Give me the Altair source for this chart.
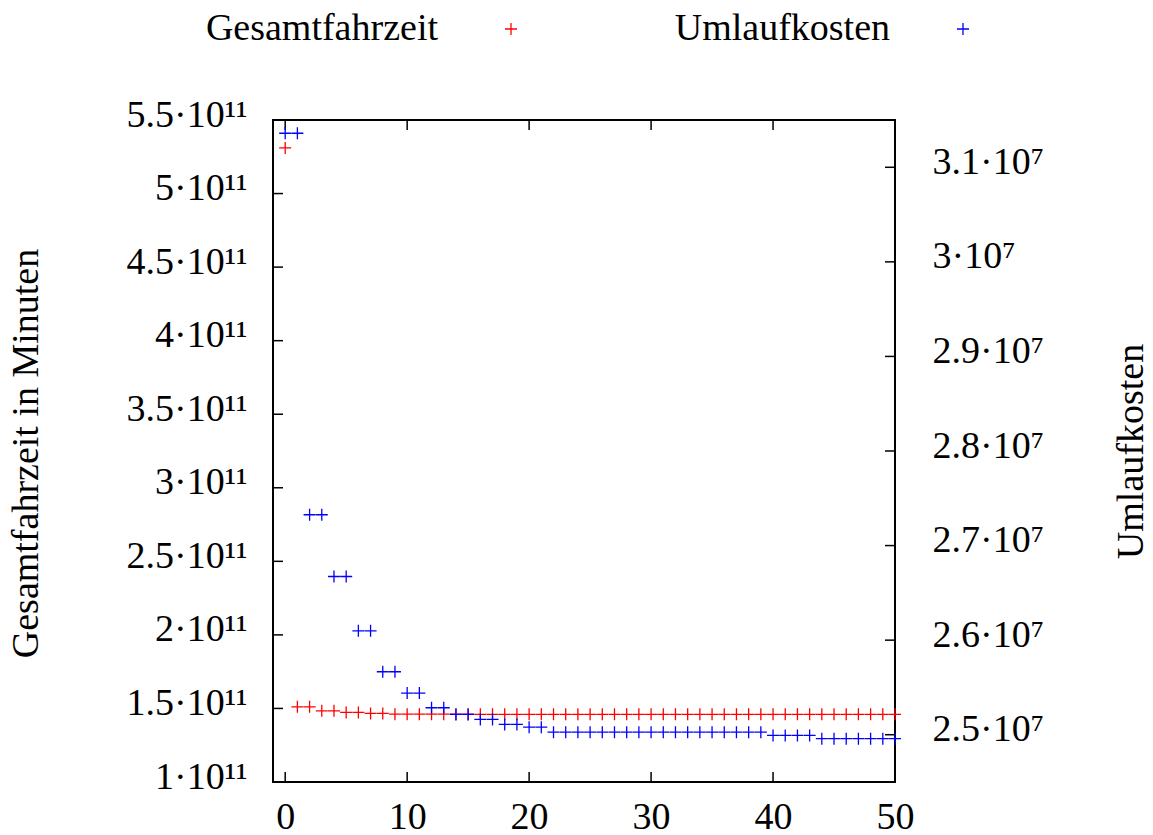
import altair as alt
import pandas as pd

# ---------------- data ----------------
series_names = ["Gesamtfahrzeit", "Umlaufkosten"]
series_colors = ["#ff0000", "#0000ff"]

iterations = [0, 1, 2, 3, 4, 5, 6, 7, 8, 9,
              10, 11, 12, 13, 14, 15, 16, 17, 18, 19,
              20, 21, 22, 23, 24, 25, 26, 27, 28, 29,
              30, 31, 32, 33, 34, 35, 36, 37, 38, 39,
              40, 41, 42, 43, 44, 45, 46, 47, 48, 49, 50]

gesamtfahrzeit = [5.31e11, 1.511e11, 1.511e11, 1.484e11, 1.484e11, 1.473e11, 1.473e11, 1.466e11, 1.466e11, 1.461e11,
                  1.461e11, 1.461e11, 1.461e11, 1.461e11, 1.461e11, 1.461e11, 1.460e11, 1.460e11, 1.460e11, 1.460e11,
                  1.460e11, 1.460e11, 1.460e11, 1.460e11, 1.460e11, 1.460e11, 1.460e11, 1.460e11, 1.460e11, 1.460e11,
                  1.460e11, 1.460e11, 1.460e11, 1.460e11, 1.460e11, 1.460e11, 1.460e11, 1.460e11, 1.460e11, 1.460e11,
                  1.460e11, 1.460e11, 1.460e11, 1.460e11, 1.460e11, 1.460e11, 1.460e11, 1.460e11, 1.460e11, 1.460e11,
                  1.460e11]

umlaufkosten = [3.136e7, 3.136e7, 2.7326e7, 2.7326e7, 2.6673e7, 2.6673e7, 2.6099e7, 2.6099e7, 2.5666e7, 2.5666e7,
                2.5440e7, 2.5440e7, 2.5285e7, 2.5285e7, 2.5215e7, 2.5215e7, 2.5162e7, 2.5162e7, 2.5109e7, 2.5109e7,
                2.5080e7, 2.5080e7, 2.5027e7, 2.5027e7, 2.5027e7, 2.5027e7, 2.5027e7, 2.5027e7, 2.5027e7, 2.5027e7,
                2.5027e7, 2.5027e7, 2.5027e7, 2.5027e7, 2.5027e7, 2.5027e7, 2.5027e7, 2.5027e7, 2.5027e7, 2.5027e7,
                2.4993e7, 2.4993e7, 2.4993e7, 2.4993e7, 2.4958e7, 2.4958e7, 2.4958e7, 2.4958e7, 2.4958e7, 2.4958e7,
                2.4958e7]

x_ticks = [0, 10, 20, 30, 40, 50]
left_ticks = [1.0e11, 1.5e11, 2.0e11, 2.5e11, 3.0e11, 3.5e11, 4.0e11, 4.5e11, 5.0e11, 5.5e11]
right_ticks = [2.5e7, 2.6e7, 2.7e7, 2.8e7, 2.9e7, 3.0e7, 3.1e7]

x_domain = [-1, 50]
left_domain = [1.0e11, 5.5e11]
right_domain = [2.45e7, 3.15e7]

# ---------------- styling ----------------
FONT = "Liberation Serif"
FS = 38
W, H = 622, 662
TICK = 10
PLUS = "M-1,0H1M0,-1V1"

df_g = pd.DataFrame({"Iteration": iterations, "Wert": gesamtfahrzeit, "Reihe": series_names[0]})
df_u = pd.DataFrame({"Iteration": iterations, "Wert": umlaufkosten, "Reihe": series_names[1]})

xscale = alt.Scale(domain=x_domain, nice=False, zero=False)
yl_scale = alt.Scale(domain=left_domain, nice=False, zero=False)
yr_scale = alt.Scale(domain=right_domain, nice=False, zero=False)

color_scale = alt.Scale(domain=series_names, range=series_colors)

legend = alt.Legend(
    title=None, orient="none", legendX=219, legendY=-110, direction="horizontal",
    columns=2, columnPadding=154,
    labelFont=FONT, labelFontSize=FS, labelColor="black", labelLimit=0,
    labelAlign="right", labelOffset={"expr": "-92"},
    symbolType=PLUS, symbolSize=144, symbolStrokeWidth=1.3,
    symbolFillColor="transparent",
)

x_axis = alt.Axis(values=x_ticks, title=None, labelPadding=16, labelFlush=False,
                  labelOverlap=False, format="d", orient="bottom")

left_axis = alt.Axis(
    values=left_ticks, title="Gesamtfahrzeit in Minuten", orient="left",
    labelPadding=26, labelOverlap=False, labelLimit=0, labelOffset=-5,
    labelExpr="format(datum.value / 1e11, '~g') + '·10¹¹'",
    titleAngle=270, titleX=-236, titleY=333, titleBaseline="alphabetic", titleAlign="center",
)
right_axis = alt.Axis(
    values=right_ticks, title="Umlaufkosten", orient="right",
    labelPadding=37, labelOverlap=False, labelLimit=0, labelAlign="left", labelOffset=-5,
    labelExpr="format(datum.value / 1e7, '~g') + '·10⁷'",
    titleAngle=270, titleX=247, titleY=331, titleBaseline="alphabetic", titleAlign="center",
)

point_kw = dict(shape=PLUS, size=144, filled=False, strokeWidth=1.3, opacity=1)

red = alt.Chart(df_g).mark_point(**point_kw).encode(
    x=alt.X("Iteration:Q", scale=xscale, axis=x_axis),
    y=alt.Y("Wert:Q", scale=yl_scale, axis=left_axis),
    color=alt.Color("Reihe:N", scale=color_scale, legend=legend),
)

blue = alt.Chart(df_u).mark_point(**point_kw).encode(
    x=alt.X("Iteration:Q", scale=xscale, axis=x_axis),
    y=alt.Y("Wert:Q", scale=yr_scale, axis=right_axis),
    color=alt.Color("Reihe:N", scale=color_scale, legend=legend),
)

rule_kw = dict(color="black", strokeWidth=1.5)

# inward tick marks drawn from the tick-value lists through the same scales
left_tick_rules = alt.Chart(pd.DataFrame({"Wert": left_ticks})).mark_rule(**rule_kw).encode(
    y=alt.Y("Wert:Q", scale=yl_scale, axis=left_axis),
    x=alt.value(0), x2=alt.value(TICK),
)
right_tick_rules = alt.Chart(pd.DataFrame({"Wert": right_ticks})).mark_rule(**rule_kw).encode(
    y=alt.Y("Wert:Q", scale=yr_scale, axis=right_axis),
    x=alt.value(W - TICK), x2=alt.value(W),
)
bottom_tick_rules = alt.Chart(pd.DataFrame({"Iteration": x_ticks})).mark_rule(**rule_kw).encode(
    x=alt.X("Iteration:Q", scale=xscale, axis=x_axis),
    y=alt.value(H), y2=alt.value(H - TICK),
)
top_tick_rules = alt.Chart(pd.DataFrame({"Iteration": x_ticks})).mark_rule(**rule_kw).encode(
    x=alt.X("Iteration:Q", scale=xscale, axis=x_axis),
    y=alt.value(0), y2=alt.value(TICK),
)

left_group = alt.layer(red, left_tick_rules, bottom_tick_rules, top_tick_rules)
right_group = alt.layer(blue, right_tick_rules)

chart = alt.layer(left_group, right_group).resolve_scale(y="independent").properties(
    width=W, height=H,
    autosize=alt.AutoSizeParams(type="none"),
    padding={"left": 273, "top": 120, "right": 258, "bottom": 53},
    background="white",
).configure_view(
    stroke="black", strokeWidth=2,
).configure_axis(
    labelFont=FONT, labelFontSize=FS, labelColor="black",
    titleFont=FONT, titleFontSize=FS, titleColor="black", titleFontWeight="normal",
    domain=False, ticks=False, tickSize=0, grid=False,
)

chart.save("out.html", embed_options={"renderer": "svg", "actions": False})
